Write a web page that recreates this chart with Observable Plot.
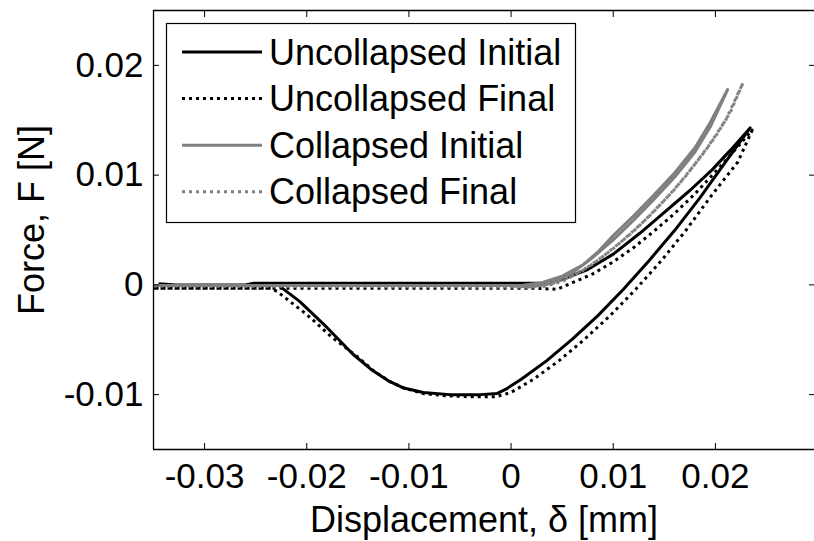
<!DOCTYPE html>
<html>
<head>
<meta charset="utf-8">
<script src="https://cdn.jsdelivr.net/npm/d3@7"></script>
<script src="https://cdn.jsdelivr.net/npm/@observablehq/plot@0.6"></script>
<style>
  html, body { margin: 0; padding: 0; background: #fff; overflow: hidden; }
  #wrap { position: relative; width: 814px; height: 541px; }
  #legend { position: absolute; left: 0; top: 0; pointer-events: none; }
</style>
</head>
<body>
<div id="wrap"></div>
<script>
// ---- data ----
const seriesNames = ["Uncollapsed Initial", "Uncollapsed Final", "Collapsed Initial", "Collapsed Final"];

const xTicks = [-0.03, -0.02, -0.01, 0, 0.01, 0.02];
const xTickLabels = ["-0.03", "-0.02", "-0.01", "0", "0.01", "0.02"];
const yTicks = [-0.01, 0, 0.01, 0.02];
const yTickLabels = ["-0.01", "0", "0.01", "0.02"];
const xDomain = [-0.035, 0.0297];
const yDomain = [-0.015, 0.025];

// Uncollapsed Initial (black solid): approach, loading, unloading, pull-off
const uncInitX = [-0.0345, -0.0328, -0.026, -0.0252, -0.010, 0.003, 0.005, 0.0075, 0.010, 0.0126, 0.015, 0.0175, 0.0197, 0.0215, 0.0234,
  0.021, 0.0185, 0.016, 0.0135, 0.011, 0.0085, 0.006, 0.0035, 0.001, -0.0005, -0.0014, -0.003, -0.0043, -0.006, -0.0086, -0.0105, -0.0119, -0.0137, -0.0155, -0.018, -0.0207, -0.0224, -0.0229, -0.0252];
const uncInitY = [0.0001, 0, 0, 0.00015, 0.00015, 0.00015, 0.0005, 0.0014, 0.0028, 0.0047, 0.0066, 0.0086, 0.0105, 0.0123, 0.0143,
  0.0112, 0.00795, 0.00495, 0.0022, -0.0004, -0.0028, -0.00495, -0.0069, -0.0086, -0.0095, -0.0099, -0.0100, -0.0100, -0.0100, -0.0098, -0.0094, -0.0088, -0.0077, -0.0063, -0.0039, -0.0015, -0.0003, 0.00015, 0.00015];

// Uncollapsed Final (black dotted)
const uncFinX = [-0.035, -0.010, 0.002, 0.0045, 0.006, 0.008, 0.010, 0.012, 0.014, 0.016, 0.018, 0.0205, 0.0236,
  0.0222, 0.0195, 0.0171, 0.0147, 0.0122, 0.0097, 0.0072, 0.0047, 0.0022, 0.0, -0.0015, -0.004, -0.0065, -0.0086, -0.0105, -0.0119, -0.0135, -0.0151, -0.0175, -0.020, -0.0229, -0.0235, -0.035];
const uncFinY = [-0.0003, -0.0003, -0.0003, -0.0004, 0.0002, 0.0010, 0.0021, 0.0034, 0.0049, 0.0065, 0.0083, 0.0108, 0.0141,
  0.0112, 0.0080, 0.00495, 0.0022, -0.0004, -0.0028, -0.00495, -0.0069, -0.0086, -0.0098, -0.0102, -0.0102, -0.0101, -0.0099, -0.0094, -0.0088, -0.0078, -0.0065, -0.0048, -0.0027, -0.0006, -0.0003, -0.0003];

// Collapsed Initial (grey solid)
const colInitX = [-0.035, 0.001, 0.003, 0.005, 0.007, 0.0085, 0.010, 0.012, 0.014, 0.016, 0.018, 0.0195, 0.0212,
  0.0195, 0.018, 0.016, 0.014, 0.012, 0.010, 0.008, 0.006, 0.004, 0.002, 0.0];
const colInitY = [-0.00005, -0.00005, 0.0002, 0.0008, 0.0018, 0.0030, 0.0045, 0.0063, 0.0082, 0.0102, 0.0125, 0.0148, 0.0178,
  0.0144, 0.0121, 0.0098, 0.0078, 0.0059, 0.0041, 0.0025, 0.0011, 0.0002, -0.0002, -0.0001];

// Collapsed Final (grey dotted)
const colFinX = [-0.035, 0.002, 0.004, 0.006, 0.008, 0.010, 0.012, 0.014, 0.016, 0.018, 0.020, 0.0215, 0.0227,
  0.021, 0.019, 0.017, 0.015, 0.013, 0.011, 0.009, 0.007, 0.005, 0.003];
const colFinY = [-0.0001, -0.0002, 0.0001, 0.0008, 0.0019, 0.0033, 0.0049, 0.0067, 0.0087, 0.0110, 0.0135, 0.0158, 0.0184,
  0.0150, 0.0122, 0.0098, 0.0077, 0.0058, 0.0041, 0.0026, 0.0013, 0.0003, -0.0002];

// ---- styles ----
const styles = {
  "Uncollapsed Initial": {stroke: "#000000", dash: null},
  "Uncollapsed Final":   {stroke: "#000000", dash: "3,4"},
  "Collapsed Initial":   {stroke: "#808080", dash: null},
  "Collapsed Final":     {stroke: "#808080", dash: "3,4"}
};
const FONT = "'Liberation Sans', Arial, Helvetica, sans-serif";

const seriesXY = [[uncInitX, uncInitY], [uncFinX, uncFinY], [colInitX, colInitY], [colFinX, colFinY]];
const rows = [];
seriesNames.forEach((name, s) => {
  const [xs, ys] = seriesXY[s];
  xs.forEach((x, i) => rows.push({series: name, i, x, y: ys[i]}));
});

const lineMarks = seriesNames.map(name =>
  Plot.line(rows.filter(d => d.series === name), {
    x: "x", y: "y",
    stroke: styles[name].stroke,
    strokeWidth: 3,
    strokeDasharray: styles[name].dash,
    strokeLinecap: "butt",
    strokeLinejoin: "round"
  })
);

const fmtX = d => xTickLabels[xTicks.indexOf(d)];
const fmtY = d => yTickLabels[yTicks.indexOf(d)];

const chart = Plot.plot({
  width: 814,
  height: 541,
  marginLeft: 153,
  marginRight: 0,
  marginTop: 10,
  marginBottom: 92,
  style: {fontFamily: FONT, fontSize: "35px", background: "#fff", color: "#000", overflow: "visible"},
  x: {domain: xDomain},
  y: {domain: yDomain},
  marks: [
    ...lineMarks,
    Plot.ruleX([xDomain[0]], {stroke: "#000", strokeWidth: 1.3}),
    Plot.ruleY([yDomain[0], yDomain[1]], {stroke: "#000", strokeWidth: 1.3}),
    Plot.axisX(xTicks, {anchor: "bottom", tickSize: -6, tickPadding: 20, tickFormat: fmtX, label: null, fontSize: 35, stroke: "#000"}),
    Plot.axisX(xTicks, {anchor: "top", tickSize: -6, tickFormat: () => "", label: null}),
    Plot.axisY(yTicks, {anchor: "left", tickSize: -6, tickPadding: 16, tickFormat: fmtY, label: null, fontSize: 35}),
    Plot.axisY(yTicks, {anchor: "right", tickSize: -6, tickFormat: () => "", label: null}),
    Plot.text(["Displacement, δ [mm]"], {frameAnchor: "bottom", textAnchor: "middle", lineAnchor: "bottom", dy: 82, fontSize: 36, fill: "#000"}),
    Plot.text(["Force, F [N]"], {frameAnchor: "left", textAnchor: "middle", lineAnchor: "bottom", rotate: -90, dx: -110, dy: -10, fontSize: 36, fill: "#000"})
  ]
});

const wrap = document.getElementById("wrap");
wrap.appendChild(chart);

// ---- legend (inside the axes, as in the reference) ----
const ns = "http://www.w3.org/2000/svg";
const leg = document.createElementNS(ns, "svg");
leg.setAttribute("id", "legend");
leg.setAttribute("width", 814);
leg.setAttribute("height", 541);
const box = document.createElementNS(ns, "rect");
box.setAttribute("x", 166.5); box.setAttribute("y", 23.5);
box.setAttribute("width", 409); box.setAttribute("height", 199);
box.setAttribute("fill", "#fff"); box.setAttribute("stroke", "#000"); box.setAttribute("stroke-width", 1.2);
leg.appendChild(box);
const rowY0 = 52, rowStep = 46.6;
seriesNames.forEach((name, k) => {
  const cy = rowY0 + k * rowStep;
  const ln = document.createElementNS(ns, "line");
  ln.setAttribute("x1", 182); ln.setAttribute("x2", 262);
  ln.setAttribute("y1", cy); ln.setAttribute("y2", cy);
  ln.setAttribute("stroke", styles[name].stroke);
  ln.setAttribute("stroke-width", 3);
  if (styles[name].dash) ln.setAttribute("stroke-dasharray", styles[name].dash);
  leg.appendChild(ln);
  const tx = document.createElementNS(ns, "text");
  tx.setAttribute("x", 269); tx.setAttribute("y", cy + 12.5);
  tx.setAttribute("font-family", FONT);
  tx.setAttribute("font-size", 36);
  tx.setAttribute("fill", "#000");
  tx.textContent = name;
  leg.appendChild(tx);
});
wrap.appendChild(leg);
</script>
</body>
</html>
